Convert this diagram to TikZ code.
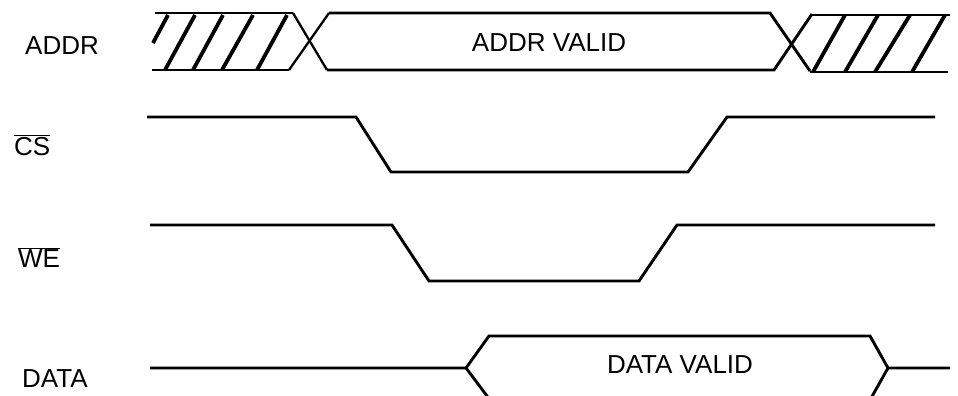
\documentclass[tikz,border=0pt]{standalone}
\usepackage{fontspec}
\setmainfont{Liberation Sans}
\usetikzlibrary{positioning}

\begin{document}
\begin{tikzpicture}[x=1pt, y=-1pt,
    signal/.style={draw, line width=2.9pt, line join=miter},
    hatch/.style={draw, line width=3.8pt},
    crossing/.style={draw, line width=2.3pt},
    sigLabel/.style={anchor=base west, inner sep=0pt, font=\fontsize{26}{30}\selectfont},
    busLabel/.style={anchor=base, inner sep=0pt, font=\fontsize{26}{30}\selectfont}]

  \useasboundingbox (0,0) rectangle (958,396);
  \clip (0,0) rectangle (958,396);

  % signal names
  \node[sigLabel] (addrName) at (25,55) {ADDR};
  \node[sigLabel] (csName) at (14,155) {$\overline{\mbox{CS}}$};
  \node[sigLabel] (weName) at (18,267) {$\overline{\mbox{WE}}$};
  \node[sigLabel] (dataName) at (22,387) {DATA};

  % ADDR
  \draw[signal] (155,13) -- (293,13);
  \draw[signal] (152,70) -- (289,70);
  \draw[hatch] (153,43) -- (168,15);
  \foreach \b/\t in {165/195, 193/223, 222/253, 257/287}
    \draw[hatch] (\b,70) -- (\t,15);
  \draw[crossing] (293,13) -- (327,70);
  \draw[crossing] (289,70) -- (329,13);
  \draw[signal] (329,13) -- (770,13) -- (810,71);
  \draw[signal] (327,70) -- (774,70) -- (812,14);
  \node[busLabel] (addrValid) at (549,52) {ADDR VALID};
  \draw[signal] (812,15) -- (950,15);
  \draw[signal] (810,72) -- (948,72);
  \foreach \b/\t in {813/845, 845/878, 875/910, 912/945}
    \draw[hatch] (\b,72) -- (\t,15);

  % CS
  \draw[signal] (147,117) -- (356,117) -- (391,172) -- (688,172) -- (727,117) -- (935,117);

  % WE
  \draw[signal] (150,225) -- (392,225) -- (429,281) -- (639,281) -- (677,225) -- (935,225);

  % DATA
  \draw[signal] (150,368) -- (466,368) -- (489,336) -- (870,336) -- (888,368) -- (950,368);
  \draw[signal] (466,368) -- (490,400) -- (870,400) -- (888,368);
  \node[busLabel] (dataValid) at (680,373) {DATA VALID};

\end{tikzpicture}
\end{document}
